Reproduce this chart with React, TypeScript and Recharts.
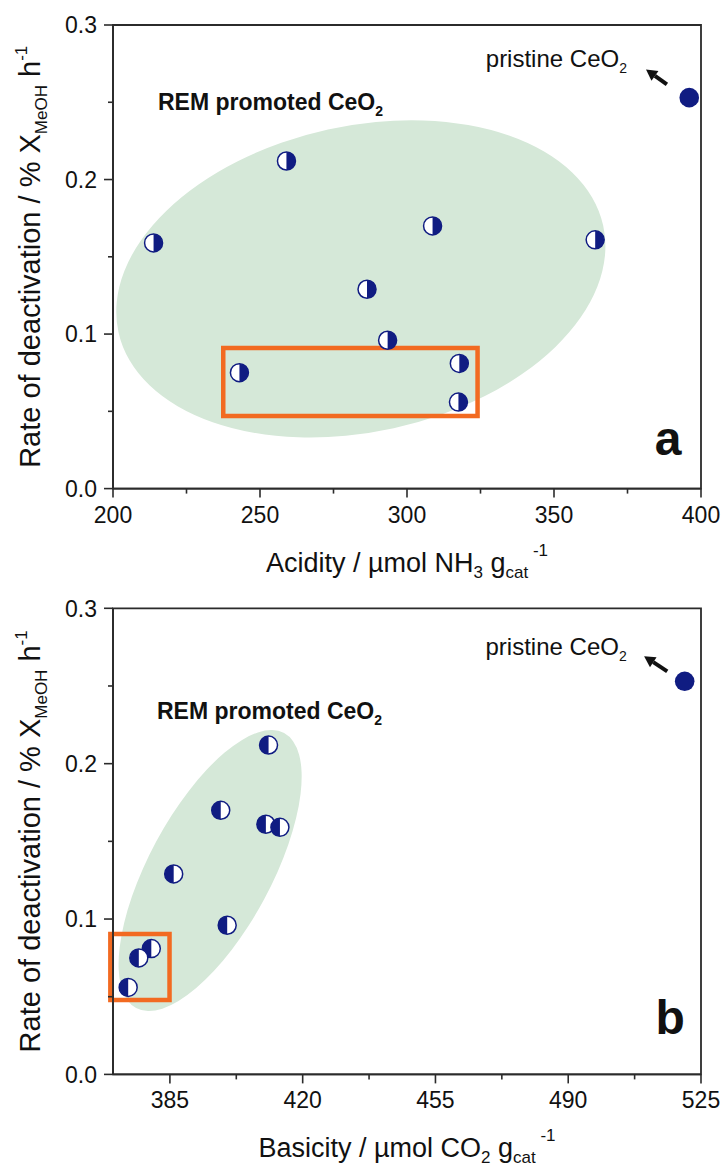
import { ScatterChart, Scatter, XAxis, YAxis, ReferenceArea, ReferenceDot, ReferenceLine } from 'recharts'

// deactivation rate of the REM promoted samples (same order in both panels)
const rate = [0.212, 0.17, 0.161, 0.159, 0.129, 0.096, 0.081, 0.075, 0.056]
const acidity = [259, 308.7, 364, 213.8, 286.4, 293.4, 317.8, 243, 317.5]
const basicity = [411, 398.4, 410.3, 414, 386, 400.1, 380.1, 376.8, 374]

// pristine CeO2
const pristineRate = 0.253
const pristineAcidity = 396
const pristineBasicity = 520.7

const rateTicks = [0, 0.05, 0.1, 0.15, 0.2, 0.25, 0.3]
const rateLabels = [0, 0.1, 0.2, 0.3]
const acidityTicks = [200, 225, 250, 275, 300, 325, 350, 375, 400]
const acidityLabels = [200, 250, 300, 350, 400]
const basicityTicks = [385, 402.5, 420, 437.5, 455, 472.5, 490, 507.5, 525]
const basicityLabels = [385, 420, 455, 490, 525]

const NAVY = '#101c82'
const GREEN = '#d5e8d8'
const ORANGE = '#f26a21'
const AXIS = '#2b2b2b'
const INK = '#111'
const FONT = '"Liberation Sans", Arial, sans-serif'

const halfMarker = (leftFilled: boolean) => (props: any) => {
  const { cx, cy } = props
  const r = 9
  const sweep = leftFilled ? 0 : 1
  return (
    <g>
      <circle cx={cx} cy={cy} r={r} fill="#fff" stroke={NAVY} strokeWidth={1.5} />
      <path d={`M${cx},${cy - r} A${r},${r} 0 0 ${sweep} ${cx},${cy + r} Z`} fill={NAVY} />
    </g>
  )
}

const fullMarker = (props: any) => <circle cx={props.cx} cy={props.cy} r={9.8} fill={NAVY} />

const ellipseShape = (angle: number) => (props: any) => {
  const { x, y, width, height } = props
  const cx = x + width / 2
  const cy = y + height / 2
  return (
    <ellipse
      cx={cx}
      cy={cy}
      rx={Math.abs(width) / 2}
      ry={Math.abs(height) / 2}
      transform={`rotate(${angle} ${cx} ${cy})`}
      fill={GREEN}
    />
  )
}

// arrow pointing from the dot towards the text
const arrowShape = (props: any) => {
  const { x1, y1, x2, y2 } = props
  const dx = x2 - x1
  const dy = y2 - y1
  const len = Math.sqrt(dx * dx + dy * dy)
  const ux = dx / len
  const uy = dy / len
  const hl = 11
  const hw = 6
  const bx = x2 - ux * hl
  const by = y2 - uy * hl
  return (
    <g>
      <line x1={x1} y1={y1} x2={bx} y2={by} stroke="#111" strokeWidth={4} />
      <polygon
        points={`${x2},${y2} ${bx - uy * hw},${by + ux * hw} ${bx + uy * hw},${by - ux * hw}`}
        fill="#111"
      />
    </g>
  )
}

const XTick = (props: any) => {
  const { x, y, payload, labels } = props
  const major = labels.includes(payload.value)
  return (
    <g>
      <line x1={x} y1={y} x2={x} y2={y + (major ? 9 : 5)} stroke={AXIS} strokeWidth={1.6} />
      {major && (
        <text x={x} y={y + 34} textAnchor="middle" fontSize={23} fontFamily={FONT} fill={INK}>
          {payload.value}
        </text>
      )}
    </g>
  )
}

const YTick = (props: any) => {
  const { x, y, payload } = props
  const major = rateLabels.includes(payload.value)
  return (
    <g>
      <line x1={x} y1={y} x2={x - (major ? 9 : 5)} y2={y} stroke={AXIS} strokeWidth={1.6} />
      {major && (
        <text x={x - 16} y={y} dy="0.36em" textAnchor="end" fontSize={23} fontFamily={FONT} fill={INK}>
          {payload.value.toFixed(1)}
        </text>
      )}
    </g>
  )
}

const yTitle = (props: any) => {
  const { viewBox } = props
  const tx = 40
  const ty = viewBox.y + viewBox.height / 2
  return (
    <text
      x={tx}
      y={ty}
      transform={`rotate(-90 ${tx} ${ty})`}
      textAnchor="middle"
      fontSize={29}
      fontFamily={FONT}
      fill={INK}
    >
      {'Rate of deactivation / % X'}
      <tspan dy={7} fontSize={17}>MeOH</tspan>
      <tspan dy={-7}>{' h'}</tspan>
      <tspan dy={-13} fontSize={17}>-1</tspan>
    </text>
  )
}

const xTitle = (name: string, species: string, sub: string) => (props: any) => {
  const { viewBox } = props
  const tx = viewBox.x + viewBox.width / 2
  const ty = viewBox.y + 83
  return (
    <text x={tx} y={ty} textAnchor="middle" fontSize={27} fontFamily={FONT} fill={INK}>
      {`${name} / µmol ${species}`}
      <tspan dy={6} fontSize={17}>{sub}</tspan>
      <tspan dy={-6}>{' g'}</tspan>
      <tspan dy={6} fontSize={17}>cat</tspan>
      <tspan dy={-22} fontSize={17}>{' -1'}</tspan>
    </text>
  )
}

const remText = (props: any) => (
  <text x={props.cx} y={props.cy} fontSize={23} fontWeight="bold" fontFamily={FONT} fill={INK}>
    {'REM promoted CeO'}
    <tspan dy={6} fontSize={14}>2</tspan>
  </text>
)

const pristineText = (props: any) => (
  <text x={props.cx} y={props.cy} fontSize={24} fontFamily={FONT} fill={INK}>
    {'pristine CeO'}
    <tspan dy={6} fontSize={14}>2</tspan>
  </text>
)

const panelLetter = (letter: string) => (props: any) => (
  <text x={props.cx} y={props.cy} fontSize={48} fontWeight="bold" fontFamily={FONT} fill={INK}>
    {letter}
  </text>
)

interface PanelProps {
  height: number
  marginTop: number
  xAxisHeight: number
  xs: number[]
  pristineX: number
  domain: [number, number]
  ticks: number[]
  labels: number[]
  title: (props: any) => any
  leftFilled: boolean
  ellipse: { x1: number; x2: number; y1: number; y2: number; angle: number }
  box: { x1: number; x2: number; y1: number; y2: number }
  arrow: [{ x: number; y: number }, { x: number; y: number }]
  remAt: { x: number; y: number }
  pristineAt: { x: number; y: number }
  letter: string
  letterAt: { x: number; y: number }
}

function Panel(p: PanelProps) {
  const points = p.xs.map((x, i) => ({ x, y: rate[i] }))
  const pristine = [{ x: p.pristineX, y: pristineRate }]
  return (
    <ScatterChart
      width={724}
      height={p.height}
      margin={{ top: p.marginTop, right: 23, bottom: 0, left: 0 }}
    >
      <XAxis
        type="number"
        dataKey="x"
        domain={p.domain}
        ticks={p.ticks}
        interval={0}
        allowDataOverflow
        height={p.xAxisHeight}
        tickSize={0}
        tickMargin={0}
        tickLine={false}
        tick={(t: any) => <XTick {...t} labels={p.labels} />}
        axisLine={{ stroke: AXIS, strokeWidth: 1.8 }}
        label={p.title}
      />
      <YAxis
        type="number"
        dataKey="y"
        domain={[0, 0.3]}
        ticks={rateTicks}
        interval={0}
        allowDataOverflow
        width={113}
        tickSize={0}
        tickMargin={0}
        tickLine={false}
        tick={(t: any) => <YTick {...t} />}
        axisLine={{ stroke: AXIS, strokeWidth: 1.8 }}
        label={yTitle}
      />
      <ReferenceArea
        x1={p.ellipse.x1}
        x2={p.ellipse.x2}
        y1={p.ellipse.y1}
        y2={p.ellipse.y2}
        ifOverflow="visible"
        shape={ellipseShape(p.ellipse.angle)}
      />
      <ReferenceArea
        x1={p.domain[0]}
        x2={p.domain[1]}
        y1={0}
        y2={0.3}
        ifOverflow="visible"
        fill="none"
        fillOpacity={0}
        stroke={AXIS}
        strokeWidth={1.8}
      />
      <ReferenceArea
        x1={p.box.x1}
        x2={p.box.x2}
        y1={p.box.y1}
        y2={p.box.y2}
        ifOverflow="visible"
        fill="none"
        fillOpacity={0}
        stroke={ORANGE}
        strokeWidth={4.5}
      />
      <ReferenceLine segment={p.arrow} ifOverflow="visible" shape={arrowShape} />
      <ReferenceDot x={p.remAt.x} y={p.remAt.y} r={0} ifOverflow="visible" shape={remText} />
      <ReferenceDot x={p.pristineAt.x} y={p.pristineAt.y} r={0} ifOverflow="visible" shape={pristineText} />
      <ReferenceDot x={p.letterAt.x} y={p.letterAt.y} r={0} ifOverflow="visible" shape={panelLetter(p.letter)} />
      <Scatter data={points} shape={halfMarker(p.leftFilled)} isAnimationActive={false} />
      <Scatter data={pristine} shape={fullMarker} isAnimationActive={false} />
    </ScatterChart>
  )
}

export default function App() {
  return (
    <div style={{ position: 'absolute', left: 0, top: 0, width: 724, height: 1171, background: '#fff' }}>
      <div style={{ position: 'absolute', left: 0, top: 0 }}>
        <Panel
          height={596}
          marginTop={25}
          xAxisHeight={107.4}
          xs={acidity}
          pristineX={pristineAcidity}
          domain={[200, 400]}
          ticks={acidityTicks}
          labels={acidityLabels}
          title={xTitle('Acidity', 'NH', '3')}
          leftFilled={false}
          ellipse={{ x1: 199.9, x2: 368.7, y1: 0.0367, y2: 0.2347, angle: -12.4 }}
          box={{ x1: 237.5, x2: 324, y1: 0.047, y2: 0.091 }}
          arrow={[{ x: 388.4, y: 0.2615 }, { x: 381.3, y: 0.2712 }]}
          remAt={{ x: 215.3, y: 0.245 }}
          pristineAt={{ x: 326.8, y: 0.2729 }}
          letter="a"
          letterAt={{ x: 384.3, y: 0.0217 }}
        />
      </div>
      <div style={{ position: 'absolute', left: 0, top: 596 }}>
        <Panel
          height={575}
          marginTop={12.3}
          xAxisHeight={96.6}
          xs={basicity}
          pristineX={pristineBasicity}
          domain={[370, 525]}
          ticks={basicityTicks}
          labels={basicityLabels}
          title={xTitle('Basicity', 'CO', '2')}
          leftFilled={true}
          ellipse={{ x1: 354.45, x2: 436.75, y1: 0.0918, y2: 0.1706, angle: -61.7 }}
          box={{ x1: 369.3, x2: 384.9, y1: 0.0479, y2: 0.0904 }}
          arrow={[{ x: 516.1, y: 0.2594 }, { x: 510, y: 0.2692 }]}
          remAt={{ x: 381.6, y: 0.2286 }}
          pristineAt={{ x: 468.2, y: 0.27 }}
          letter="b"
          letterAt={{ x: 513, y: 0.026 }}
        />
      </div>
    </div>
  )
}
